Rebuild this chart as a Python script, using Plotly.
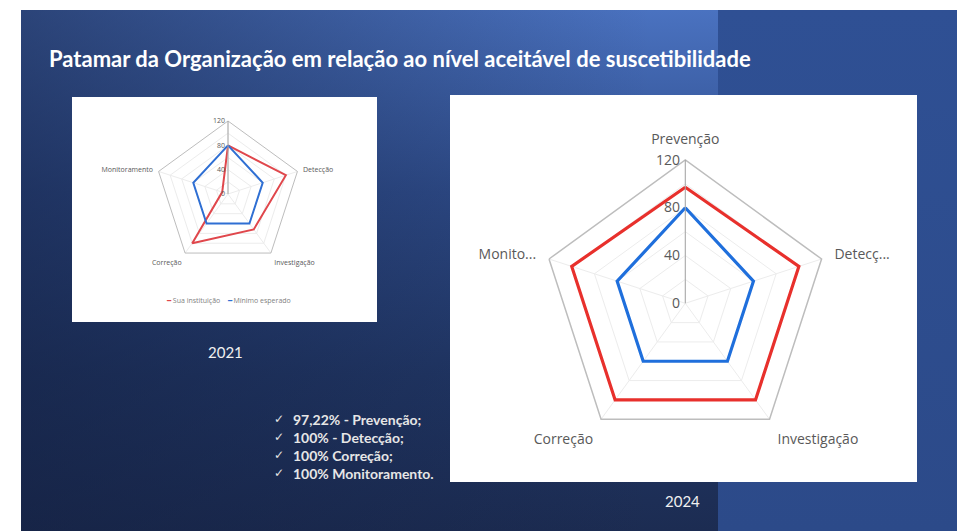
import plotly.graph_objects as go

W, H = 957, 531

categories = ["Prevenção", "Detecção", "Investigação", "Correção", "Monitoramento"]
labels_2021 = ["", "Detecção", "Investigação", "Correção", "Monitoramento"]
labels_2024 = ["Prevenção", "Detecç...", "Investigação", "Correção", "Monito..."]

sua_2021 = [80, 100, 72, 100, 10]
minimo_2021 = [80, 60, 60, 60, 60]
sua_2024 = [97.22, 100, 100, 100, 100]
minimo_2024 = [80, 60, 60, 60, 60]

radial_ticks = [0, 20, 40, 60, 80, 100, 120]
radial_text = ["0", "", "40", "", "80", "", "120"]

series_names = ["Sua instituição", "Mínimo esperado"]
red_small, blue_small = "#e0474c", "#2f6fd3"
red_big, blue_big = "#e8302c", "#1f6fdc"

bullets = ["97,22% - Prevenção;", "100% - Detecção;", "100% Correção;", "100% Monitoramento."]
title = "Patamar da Organização em relação ao nível aceitável de suscetibilidade"


def closed(v):
    return list(v) + [v[0]]


def px(x):
    return x / W


def py(y):
    return 1 - y / H


fig = go.Figure()

# ---- slide background (decoration, page coordinates) ----
def rect(x0, x1, y0, y1, **kw):
    fig.add_trace(go.Scatter(x=[x0, x1, x1, x0, x0], y=[y0, y0, y1, y1, y0], mode="lines",
                             line=dict(width=0), fill="toself", hoverinfo="skip",
                             showlegend=False, xaxis="x", yaxis="y", **kw))

rect(21, 718, 10, 540, fillgradient=dict(type="vertical", start=10, stop=531,
     colorscale=[[0, "#4a72c0"], [0.35, "#2f4d8c"], [0.7, "#213766"], [1, "#1c2c52"]]))
rect(21, 718, 10, 540, fillgradient=dict(type="horizontal", start=21, stop=650,
     colorscale=[[0, "rgba(18,30,62,0.55)"], [1, "rgba(18,30,62,0)"]]))
rect(718, 965, 10, 540, fillgradient=dict(type="vertical", start=10, stop=531,
     colorscale=[[0, "#2f5094"], [1, "#2c4a89"]]))
# white chart panels
rect(72, 377, 97, 322, fillcolor="white")
rect(450, 917, 95, 482, fillcolor="white")

# ---- radar charts ----
fig.add_trace(go.Scatterpolar(r=closed(sua_2021), theta=closed(categories), mode="lines",
                              line=dict(color=red_small, width=2), name=series_names[0],
                              subplot="polar", showlegend=False))
fig.add_trace(go.Scatterpolar(r=closed(minimo_2021), theta=closed(categories), mode="lines",
                              line=dict(color=blue_small, width=2), name=series_names[1],
                              subplot="polar", showlegend=False))
fig.add_trace(go.Scatterpolar(r=closed(minimo_2024), theta=closed(categories), mode="lines",
                              line=dict(color=blue_big, width=3.2), name=series_names[1],
                              subplot="polar2", showlegend=False))
fig.add_trace(go.Scatterpolar(r=closed(sua_2024), theta=closed(categories), mode="lines",
                              line=dict(color=red_big, width=3.2), name=series_names[0],
                              subplot="polar2", showlegend=False))


def polar_layout(cx, cy, R, labels, fs, ticklen, lw):
    return dict(
        domain=dict(x=[px(cx - R), px(cx + R)], y=[py(cy + R), py(cy - R)]),
        bgcolor="rgba(0,0,0,0)",
        gridshape="linear",
        radialaxis=dict(range=[0, 120], tickmode="array", tickvals=radial_ticks, ticktext=radial_text,
                        angle=90, tickangle=90, showline=True, linecolor="#a6a6a6", linewidth=1,
                        gridcolor="#ececec", ticks="", tickfont=dict(size=fs, color="#595959",
                        family="Open Sans"), side="counterclockwise"),
        angularaxis=dict(type="category", direction="clockwise", rotation=90,
                         tickmode="array", tickvals=categories, ticktext=labels,
                         showline=True, linecolor="#bdbdbd", linewidth=lw, gridcolor="#ececec",
                         ticks="outside", ticklen=ticklen, tickcolor="rgba(0,0,0,0)",
                         tickfont=dict(size=fs, color="#595959", family="Open Sans")),
    )


fig.update_layout(
    width=W, height=H, margin=dict(l=0, r=0, t=0, b=0),
    paper_bgcolor="white", plot_bgcolor="rgba(0,0,0,0)",
    xaxis=dict(range=[0, W], visible=False, fixedrange=True, domain=[0, 1]),
    yaxis=dict(range=[H, 0], visible=False, fixedrange=True, domain=[0, 1]),
    polar=polar_layout(228, 194, 73, labels_2021, 7, 4, 1),
    polar2=polar_layout(685.3, 303.3, 143.3, labels_2024, 14, 10, 1.5),
    showlegend=False,
)

ann = []
ann.append(dict(text="<b>" + title + "</b>", x=px(47), y=py(58), xref="paper", yref="paper",
                xanchor="left", yanchor="middle", showarrow=False,
                font=dict(family="Lato", size=22, color="white")))
ann.append(dict(text="2021", x=px(225), y=py(352), xref="paper", yref="paper",
                xanchor="center", yanchor="middle", showarrow=False,
                font=dict(family="Lato", size=15, color="#f0f0f0")))
ann.append(dict(text="2024", x=px(682), y=py(501), xref="paper", yref="paper",
                xanchor="center", yanchor="middle", showarrow=False,
                font=dict(family="Lato", size=15, color="#f0f0f0")))
legend_txt = (f"<span style='color:{red_small}'>━</span> {series_names[0]}    "
              f"<span style='color:{blue_small}'>━</span> {series_names[1]}")
ann.append(dict(text=legend_txt, x=px(228), y=py(300), xref="paper", yref="paper",
                xanchor="center", yanchor="middle", showarrow=False,
                font=dict(family="Open Sans", size=7, color="#7f7f7f")))
for i, b in enumerate(bullets):
    y = 419 + i * 18
    ann.append(dict(text="✓", x=px(272), y=py(y), xref="paper", yref="paper",
                    xanchor="left", yanchor="middle", showarrow=False,
                    font=dict(family="DejaVu Sans", size=12, color="#e6e6e6")))
    ann.append(dict(text="<b>" + b + "</b>", x=px(291), y=py(y), xref="paper", yref="paper",
                    xanchor="left", yanchor="middle", showarrow=False,
                    font=dict(family="Lato", size=14, color="#e6e6e6")))
fig.update_layout(annotations=ann)

fig.write_html("out.html", config={"displayModeBar": False},
               post_script="document.body.style.margin='0';document.documentElement.style.overflow='hidden';")
